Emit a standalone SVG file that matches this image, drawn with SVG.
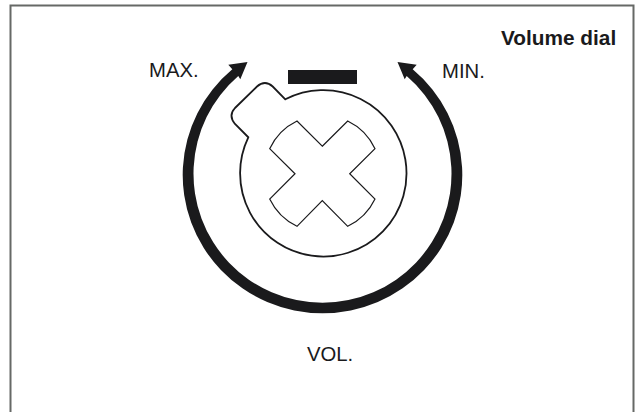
<svg xmlns="http://www.w3.org/2000/svg" width="635" height="412" viewBox="0 0 635 412">
<style>
.lbl{font-family:"Liberation Sans",Arial,sans-serif;font-size:20.3px;fill:#1a1a1c}
.title{font-weight:bold;font-size:20.8px}
.ol{fill:#fff;stroke:#1a1a1c;stroke-linejoin:miter}
.ink{fill:#1a1a1c}
</style>
<rect width="635" height="412" fill="#fff"/>
<path id="frame" d="M10.5 412V5.5H633.5V412" fill="none" stroke="#666966" stroke-width="2"/>
<g id="connectors">
<path class="ink" d="M247.5 62L228.3 64.7L232.3 69.3A139.8 138.3 0 1 0 412.7 69.3L416.7 64.7L397.5 62L404.7 79.3L406.7 76A129 129 0 1 1 238.3 76L240.3 79.3Z"/>
</g>
<g id="dial">
<path class="ol" stroke-width="1.8" d="M285.3 99.3L272.7 86.5Q265 79.5 257 86.5L235 108Q228 115.5 235 124L248.3 137.3A83.2 83.2 0 1 0 285.3 99.3Z"/>
<path class="ol" stroke-width="1.2" d="M322.3 146.2L347.7 121A58.3 58.3 0 0 1 375 148.7L349.7 173.7L375 199A58.3 58.3 0 0 1 347.7 226.3L322.3 200.7L297 226.3A58.3 58.3 0 0 1 269.7 199L295 173.7L269.7 148.7A58.3 58.3 0 0 1 297 121Z"/>
</g>
<g id="indicator"><rect class="ink" x="288" y="70" width="69" height="14"/></g>
<g id="labels">
<text class="lbl title" x="501" y="45">Volume dial</text>
<text class="lbl" x="149" y="76.5">MAX.</text>
<text class="lbl" x="442" y="78">MIN.</text>
<text class="lbl" x="307" y="360.5">VOL.</text>
</g>
</svg>
